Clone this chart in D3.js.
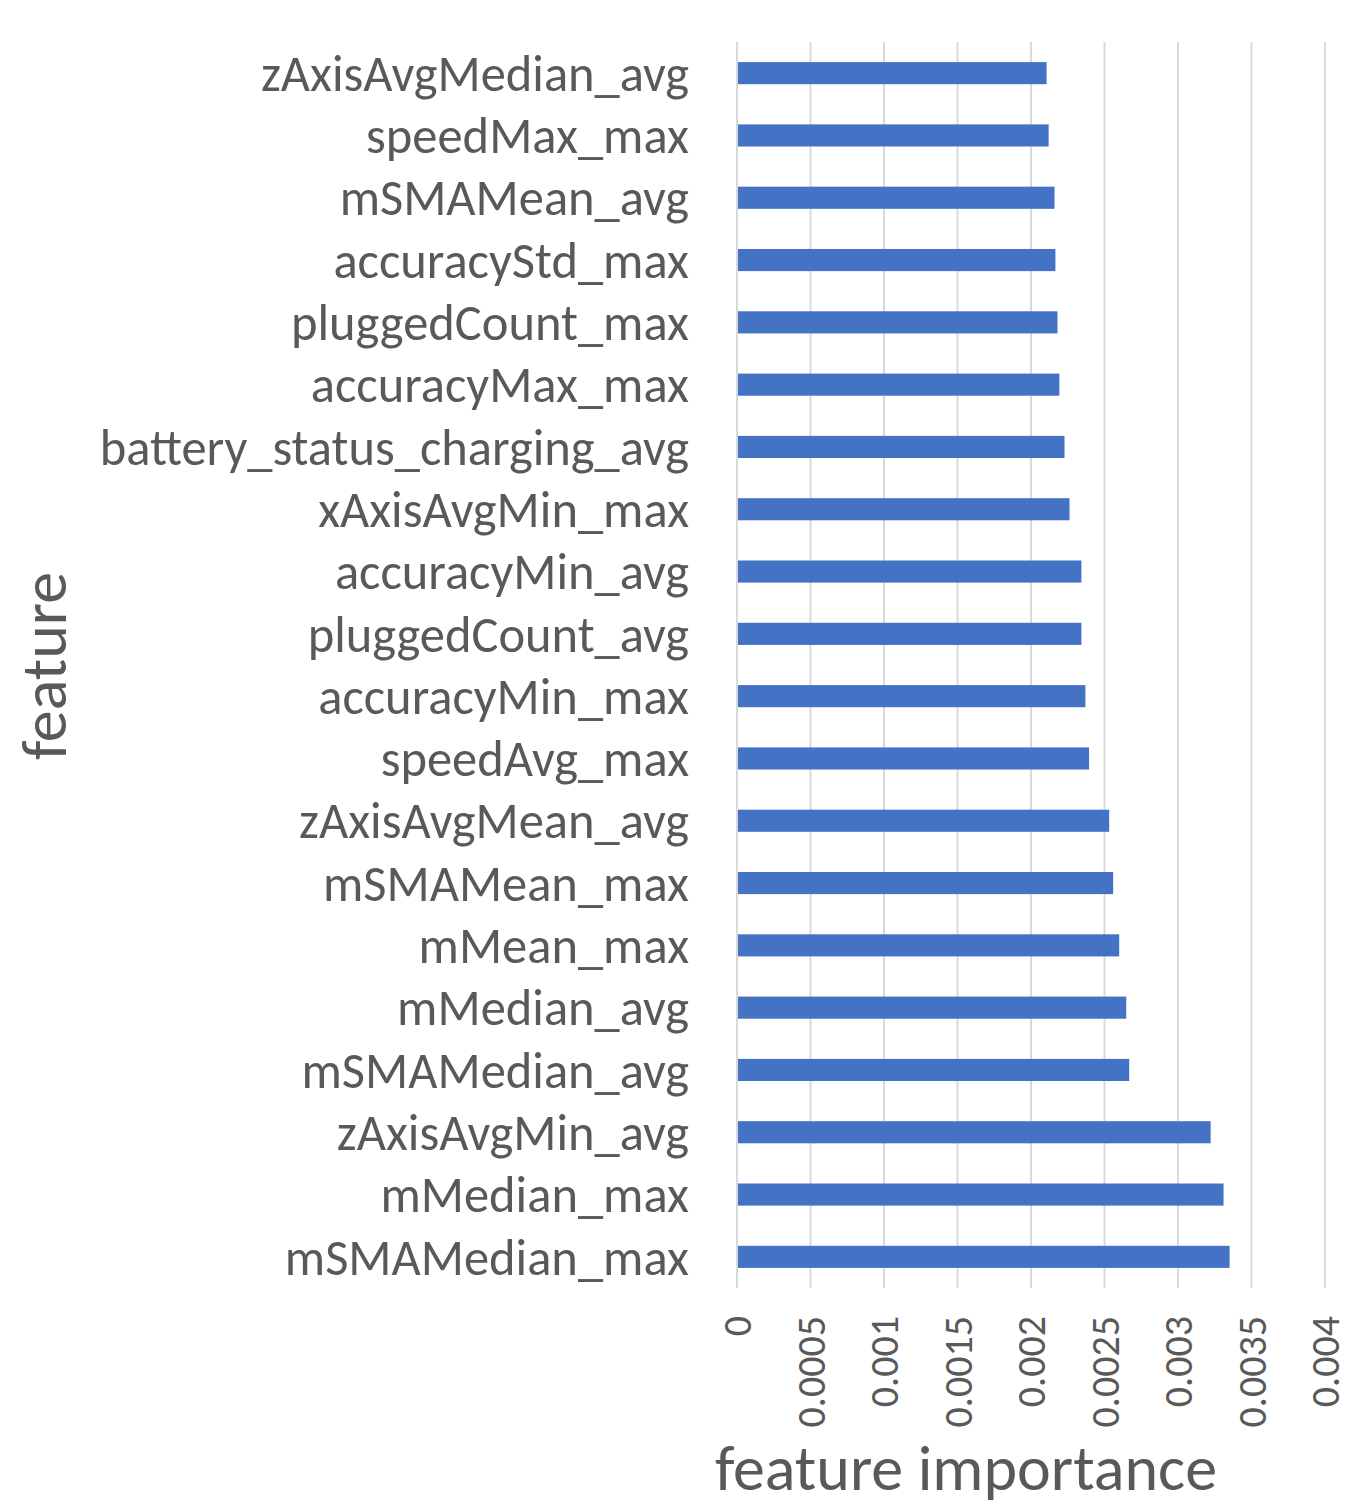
<!DOCTYPE html>
<html>
<head>
<meta charset="utf-8">
<script src="https://cdn.jsdelivr.net/npm/d3@7"></script>
<style>
  body { margin: 0; background: #fff; }
  text { font-family: Carlito, Lato, "Open Sans", sans-serif; fill: #595959; }
</style>
</head>
<body>
<div id="chart"></div>
<script>
// Data (top to bottom as shown)
const features = [
  "zAxisAvgMedian_avg", "speedMax_max", "mSMAMean_avg", "accuracyStd_max",
  "pluggedCount_max", "accuracyMax_max", "battery_status_charging_avg",
  "xAxisAvgMin_max", "accuracyMin_avg", "pluggedCount_avg", "accuracyMin_max",
  "speedAvg_max", "zAxisAvgMean_avg", "mSMAMean_max", "mMean_max",
  "mMedian_avg", "mSMAMedian_avg", "zAxisAvgMin_avg", "mMedian_max",
  "mSMAMedian_max"
];
const importance = [
  0.002106, 0.00212, 0.00216, 0.002166, 0.00218, 0.002193, 0.002228,
  0.002262, 0.002343, 0.002343, 0.00237, 0.002395, 0.002532, 0.002559,
  0.0026, 0.002648, 0.002668, 0.003222, 0.00331, 0.003351
];
const xTicks = [0, 0.0005, 0.001, 0.0015, 0.002, 0.0025, 0.003, 0.0035, 0.004];
const xTickLabels = ["0", "0.0005", "0.001", "0.0015", "0.002", "0.0025", "0.003", "0.0035", "0.004"];

const width = 1361;
const height = 1510;

const svg = d3.select("#chart")
  .append("svg")
  .attr("width", width)
  .attr("height", height);

const x = d3.scaleLinear().domain([0, 0.004]).range([737, 1325]);
const y = d3.scaleBand().domain(features).range([42, 1288]).paddingInner(0.645).paddingOuter(0.3225);

// Gridlines
svg.append("g")
  .selectAll("line")
  .data(xTicks)
  .enter()
  .append("line")
  .attr("x1", (d) => x(d))
  .attr("x2", (d) => x(d))
  .attr("y1", 42)
  .attr("y2", 1288)
  .attr("stroke", "#d9d9d9")
  .attr("stroke-width", 2);

// Bars
svg.append("g")
  .selectAll("rect")
  .data(features)
  .enter()
  .append("rect")
  .attr("x", x(0) + 1)
  .attr("y", (d) => y(d))
  .attr("width", (d, i) => x(importance[i]) - x(0) - 1)
  .attr("height", y.bandwidth())
  .attr("fill", "#4472c4");

// Category labels
svg.append("g")
  .selectAll("text")
  .data(features)
  .enter()
  .append("text")
  .attr("x", 689)
  .attr("y", (d) => y(d) + y.bandwidth() / 2)
  .attr("dy", "0.35em")
  .attr("text-anchor", "end")
  .style("font-size", "50.5px")
  .text((d) => d);

// Tick labels, rotated
svg.append("g")
  .selectAll("text")
  .data(xTicks)
  .enter()
  .append("text")
  .attr("transform", (d) => `translate(${x(d)},1316) rotate(-90)`)
  .attr("dy", "0.35em")
  .attr("text-anchor", "end")
  .style("font-size", "40px")
  .text((d, i) => xTickLabels[i]);

// Axis titles
svg.append("text")
  .attr("x", 966)
  .attr("y", 1490)
  .attr("text-anchor", "middle")
  .style("font-size", "64px")
  .text("feature importance");

svg.append("text")
  .attr("transform", "translate(66,666) rotate(-90)")
  .attr("text-anchor", "middle")
  .style("font-size", "64px")
  .text("feature");
</script>
</body>
</html>
